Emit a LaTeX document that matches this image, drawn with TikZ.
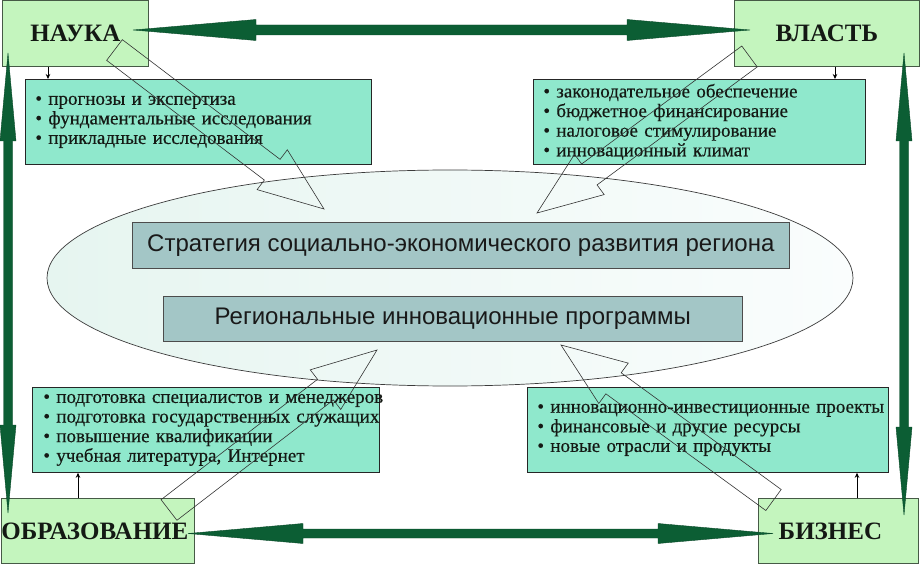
\documentclass[tikz,border=0pt]{standalone}
\usepackage{fontspec}
\setmainfont{Liberation Serif}
\newfontfamily\sansf{Liberation Sans}
\newfontfamily\listf[FakeBold=0.4]{Liberation Serif}
\usetikzlibrary{calc,shapes.geometric,arrows.meta}
\definecolor{cornerfill}{RGB}{196,245,190}
\definecolor{cornerline}{RGB}{70,90,70}
\definecolor{listfill}{RGB}{143,232,204}
\definecolor{centerfill}{RGB}{163,198,198}
\definecolor{arrgreen}{RGB}{12,94,52}
\definecolor{ellline}{RGB}{60,60,60}
\definecolor{elleft}{RGB}{230,245,240}
\definecolor{elright}{RGB}{250,253,253}
\definecolor{txt}{RGB}{20,25,20}
\newcommand\dblgreen[5]{%
  \path ($(#1)!#3!(#2)$) coordinate (na) ($(#2)!#3!(#1)$) coordinate (nb);
  \filldraw[greenarr] (#1) -- ($(na)!#4!90:(#2)$) -- ($(na)!#5!90:(#2)$)
    -- ($(nb)!#5!-90:(#1)$) -- ($(nb)!#4!-90:(#1)$) -- (#2)
    -- ($(nb)!#4!90:(#1)$) -- ($(nb)!#5!90:(#1)$)
    -- ($(na)!#5!-90:(#2)$) -- ($(na)!#4!-90:(#2)$) -- cycle;}
\newcommand\hollowarr[2]{%
  \path ($(#2)!65pt!(#1)$) coordinate (hn);
  \draw[hollow] ($(#1)!13pt!90:(#2)$) -- ($(hn)!13pt!-90:(#1)$) -- ($(hn)!25pt!-90:(#1)$)
    -- (#2) -- ($(hn)!25pt!90:(#1)$) -- ($(hn)!13pt!90:(#1)$) -- ($(#1)!13pt!-90:(#2)$) -- cycle;}
\begin{document}
\begin{tikzpicture}[x=1pt,y=-1pt,
  corner/.style={draw=cornerline, fill=cornerfill, line width=0.8pt, anchor=north west,
    inner sep=0pt, text=txt, font={\fontsize{25}{28}\selectfont\bfseries}},
  listbox/.style={draw=black!85, fill=listfill, line width=0.8pt, anchor=north west,
    inner xsep=10pt, inner ysep=0pt, align=left, text=txt, font={\listf\fontsize{19}{19.6}\selectfont}},
  centerbox/.style={draw=black!70, fill=centerfill, line width=0.6pt, anchor=north west,
    inner sep=0pt, text=black!90, font={\sansf\fontsize{24}{28}\selectfont}},
  smallarr/.style={-{Stealth[length=5pt,width=4.5pt]}, line width=0.8pt, draw=black},
  greenarr/.style={fill=arrgreen, draw=arrgreen!80!black, line width=0.4pt},
  hollow/.style={draw=black!80, line width=0.6pt, line join=miter}]
\useasboundingbox (0,0) rectangle (921,564);
\fill[white] (0,0) rectangle (921,564);
% corner boxes
\node[corner, minimum width=146pt, minimum height=66pt] (nauka) at (2,0) {НАУКА};
\node[corner, minimum width=185pt, minimum height=66pt] (vlast) at (734,0) {ВЛАСТЬ};
\node[corner, minimum width=193pt, minimum height=65pt] (obraz) at (1,498) {ОБРАЗОВАНИЕ\hspace*{6pt}};
\node[corner, minimum width=160pt, minimum height=65pt] (biz) at (758,498) {БИЗНЕС\hspace*{16pt}};
% list boxes
\node[listbox, text width=326pt, minimum height=85pt] (sci) at (25,79)
  {\mbox{• прогнозы и экспертиза}\\\mbox{• фундаментальные исследования}\\\mbox{• прикладные исследования}};
\node[listbox, text width=312pt, minimum height=85pt] (pow) at (533,79)
  {\mbox{• законодательное обеспечение}\\\mbox{• бюджетное финансирование}\\\mbox{• налоговое стимулирование}\\\mbox{• инновационный климат}};
\node[listbox, text width=325pt, minimum height=85pt, inner xsep=11pt] (edu) at (32,387)
  {\mbox{• подготовка специалистов и менеджеров}\\\mbox{• подготовка государственных служащих}\\\mbox{• повышение квалификации}\\\mbox{• учебная литература, Интернет}};
\node[listbox, text width=341pt, minimum height=85pt] (bus) at (527,387)
  {\mbox{• инновационно-инвестиционные проекты}\\\mbox{• финансовые и другие ресурсы}\\\mbox{• новые отрасли и продукты}};
% ellipse
\node[ellipse, draw=ellline, line width=0.7pt, left color=elleft, right color=elright,
  minimum width=806pt, minimum height=216pt, inner sep=0pt] (ell) at (450,278) {};
% central boxes
\node[centerbox, minimum width=657pt, minimum height=46pt] (strat) at (132,222)
  {Стратегия социально-экономического развития региона};
\node[centerbox, minimum width=579pt, minimum height=45pt] (reg) at (163,296)
  {Региональные инновационные программы};
% small arrows
\draw[smallarr] ([xshift=46pt]nauka.south west) -- ([xshift=46pt]nauka.south west |- sci.north);
\draw[smallarr] ([xshift=101pt]vlast.south west) -- ([xshift=101pt]vlast.south west |- pow.north);
\draw[smallarr] ([xshift=77pt]obraz.north west) -- ([xshift=77pt]obraz.north west |- edu.south);
\draw[smallarr] ([xshift=99pt]biz.north west) -- ([xshift=99pt]biz.north west |- bus.south);
% green double arrows
\coordinate (gt1) at (133,30);   \coordinate (gt2) at (750,30);
\coordinate (gb1) at (188,533.5); \coordinate (gb2) at (773,533.5);
\coordinate (gl1) at (8,53);     \coordinate (gl2) at (8,513);
\coordinate (gr1) at (904,53);   \coordinate (gr2) at (904,515);
\dblgreen{gt1}{gt2}{123pt}{10.5pt}{5pt}
\dblgreen{gb1}{gb2}{115pt}{10pt}{4.5pt}
\dblgreen{gl1}{gl2}{88pt}{8pt}{4.5pt}
\dblgreen{gr1}{gr2}{88pt}{8pt}{4.5pt}
% hollow block arrows
\coordinate (ta) at (114.5,50);  \coordinate (pa) at (324,209);
\coordinate (tb) at (749.5,56.5); \coordinate (pb) at (537,213);
\coordinate (tc) at (169,510);   \coordinate (pc) at (377,350);
\coordinate (td) at (773.5,500); \coordinate (pd) at (561,345);
\hollowarr{ta}{pa}
\hollowarr{tb}{pb}
\hollowarr{tc}{pc}
\hollowarr{td}{pd}
\end{tikzpicture}
\end{document}
